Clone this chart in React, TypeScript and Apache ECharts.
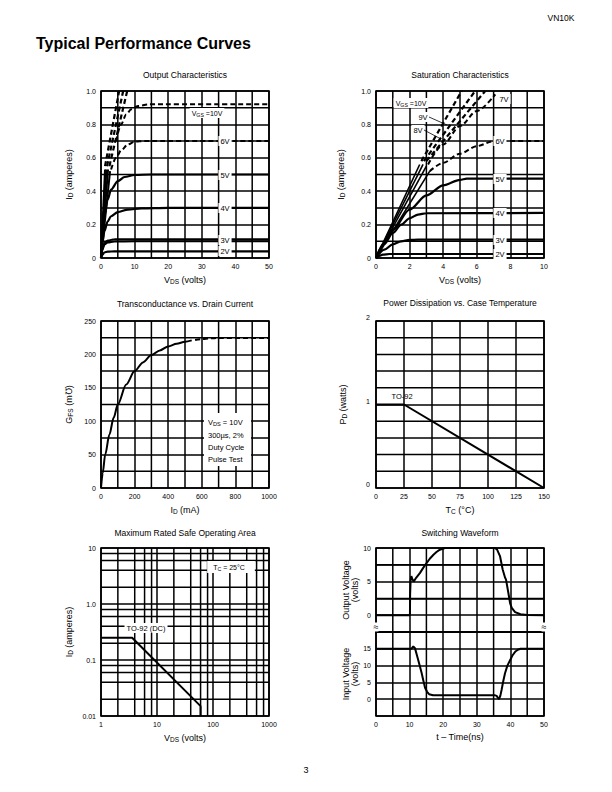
import React, { useEffect, useRef } from 'react';
import * as echarts from 'echarts';

const FONT = '"Liberation Sans", Arial, Helvetica, sans-serif';

// ---------- Output Characteristics (V_DS volts, I_D amperes) ----------
const out2V = [[0, 0], [0.4, 0.02], [1, 0.033], [2, 0.038], [4, 0.04], [50, 0.04]];
const out3Va = [[0, 0], [0.5, 0.06], [1, 0.09], [2, 0.105], [4, 0.112], [10, 0.113], [50, 0.113]];
const out3Vb = [[0, 0], [0.5, 0.05], [1, 0.08], [2, 0.093], [4, 0.099], [10, 0.1], [50, 0.1]];
const out4V = [[0, 0], [0.5, 0.1], [1, 0.16], [2, 0.22], [3, 0.25], [5, 0.275], [8, 0.29], [12, 0.297], [20, 0.3], [50, 0.3]];
const out5V = [[0, 0], [0.5, 0.15], [1, 0.25], [2, 0.35], [3, 0.41], [5, 0.46], [7, 0.485], [10, 0.497], [15, 0.5], [50, 0.5]];
const outFanA = [[0, 0], [1.2, 0.53]];
const outFanB = [[0, 0], [1.6, 0.53]];
const outFanC = [[0, 0], [2.1, 0.53]];
const outFanD = [[0, 0], [2.7, 0.52]];
const out6V = [[3.0, 0.53], [4.5, 0.6], [6, 0.645], [8, 0.68], [10, 0.697], [13, 0.7], [50, 0.7]];
const out10V = [[4.5, 0.7], [6, 0.8], [7.5, 0.86], [9, 0.89], [11, 0.91], [14, 0.92], [50, 0.92]];
const outSteepA = [[1.2, 0.55], [5.4, 1.0]];
const outSteepB = [[1.8, 0.55], [6.6, 1.0]];
const outSteepC = [[2.5, 0.55], [7.8, 1.0]];

// ---------- Saturation Characteristics ----------
const sat2V = [[0, 0], [0.2, 0.012], [0.4, 0.02], [0.8, 0.024], [10, 0.024]];
const sat3V = [[0, 0], [0.5, 0.05], [1, 0.082], [1.5, 0.1], [2, 0.108], [2.5, 0.11], [10, 0.11]];
const sat4V = [[0, 0], [0.5, 0.085], [1, 0.15], [1.5, 0.2], [2, 0.238], [2.5, 0.26], [3, 0.268], [10, 0.27]];
const sat5V = [[0, 0], [0.5, 0.09], [1, 0.17], [2, 0.29], [3, 0.375], [4, 0.435], [5, 0.468], [5.4, 0.475], [10, 0.475]];
const satFanA = [[0, 0], [2.6, 0.56]];
const satFanB = [[0, 0], [2.8, 0.56]];
const satFanC = [[0, 0], [3.0, 0.55]];
const satFanD = [[0, 0], [3.2, 0.52]];
const sat6V = [[3.2, 0.52], [4, 0.57], [5, 0.625], [6, 0.67], [7, 0.7], [10, 0.7]];
const sat7V = [[3.1, 0.56], [4, 0.68], [5, 0.79], [6, 0.88], [7.1, 0.98]];
const sat8V = [[3.0, 0.58], [6.5, 1.0]];
const sat9V = [[2.85, 0.58], [5.9, 1.0]];
const sat10V = [[2.7, 0.58], [5.1, 1.0]];

// ---------- Transconductance vs. Drain Current (I_D mA, G_FS mmho) ----------
const gfsSolid = [[0, 0], [10, 22], [25, 50], [50, 80], [75, 105], [100, 125], [150, 155], [200, 175], [250, 188], [300, 199], [350, 206], [400, 212], [450, 216], [500, 219], [540, 221]];
const gfsDashed = [[560, 221.5], [600, 223], [650, 224], [700, 224.5], [1000, 224.5]];

// ---------- Power Dissipation vs. Case Temperature ----------
const pdCurve = [[0, 1], [25, 1], [150, 0]];

// ---------- Maximum Rated Safe Operating Area ----------
const soaCurve = [[1, 0.25], [3.6, 0.25], [60, 0.015], [60, 0.01]];
const soaGridX = [2, 4, 6, 8, 20, 40, 60, 80, 200, 400, 600, 800];
const soaGridY = [0.02, 0.04, 0.06, 0.08, 0.2, 0.4, 0.6, 0.8, 2, 4, 6, 8];

// ---------- Switching Waveform (t ns, volts) ----------
const outputWave = [[0, 0], [10.1, 0], [10.15, 3], [10.3, 5.2], [10.5, 5.8], [10.8, 5.4], [11.2, 5.0], [12, 5.6], [13.1, 6.3], [14, 7.0], [15.1, 7.8], [16, 8.4], [17.1, 9.0], [18, 9.4], [19, 9.75], [20.5, 10], [35.3, 10], [36.0, 9.8], [36.9, 8.8], [37.7, 6.8], [38.4, 5.6], [38.7, 5.3], [39.4, 3.3], [39.9, 1.8], [40.4, 1.1], [41.4, 0.45], [43, 0.15], [45, 0.02], [50, 0]];
const inputWave = [[0, 15], [10.5, 15], [11.1, 15.7], [11.6, 15.2], [12.3, 12.6], [13.0, 10], [13.6, 7.7], [14.1, 5.5], [14.6, 3.4], [15.2, 2.2], [15.8, 1.5], [17, 1.2], [35.3, 1.2], [35.9, 1.0], [36.6, 0], [37.0, 1.0], [37.4, 2.9], [37.9, 5.5], [38.4, 7.7], [39.1, 10], [39.9, 11.6], [40.6, 13], [41.4, 14.1], [42.2, 14.7], [43, 15], [50, 15]];

// intermediate grid lines (between labelled ticks)
const outGridX = [5, 15, 25, 35, 45];
const idGridY = [0.1, 0.3, 0.5, 0.7, 0.9];
const satGridX = [1, 3, 5, 7, 9];
const gfsGridX = [100, 300, 500, 700, 900];
const gfsGridY = [25, 75, 125, 175, 225];
const pdGridY = [0.2, 0.4, 0.6, 0.8, 1.2, 1.4, 1.6, 1.8];
const swGridX = [5, 15, 25, 35, 45];
const swOutGridY = [2.5, 7.5];
const swInGridY: number[] = [];

const subRich = { s: { fontSize: 6.5, fontFamily: FONT, color: '#000', padding: [4, 0, 0, 0], verticalAlign: 'bottom' } };
const nameStyle = { fontSize: 9, fontFamily: FONT, color: '#000', rich: subRich };
const BLACK = { color: '#000', width: 1.5 };

function grid(left: number, top: number, width: number, height: number) {
  return { left, top, width, height, show: true, borderColor: '#000', borderWidth: 1.6, backgroundColor: 'transparent', containLabel: false };
}

function valAxis(gi: number, min: number, max: number, interval: number, name: string, nameGap: number, fmt?: any, showLabel = true, extraLabel: any = {}) {
  return {
    type: 'value', gridIndex: gi, min, max, interval, name, nameLocation: 'middle', nameGap,
    nameTextStyle: nameStyle,
    axisLine: { show: false }, axisTick: { show: false },
    axisLabel: { show: showLabel, fontSize: 7, color: '#000', margin: 5, fontFamily: FONT, formatter: fmt, ...extraLabel },
    splitLine: { show: true, lineStyle: BLACK },
  };
}

function logAxis(gi: number, min: number, max: number, name: string, nameGap: number, fmt: any) {
  return {
    type: 'log', logBase: 10, gridIndex: gi, min, max, name, nameLocation: 'middle', nameGap,
    nameTextStyle: nameStyle,
    axisLine: { show: false }, axisTick: { show: false },
    axisLabel: { fontSize: 7, color: '#000', margin: 5, fontFamily: FONT, formatter: fmt },
    splitLine: { show: true, lineStyle: BLACK },
    minorSplitLine: { show: false },
  };
}

function ln(data: number[][], idx: number, dash = false, width = 2, smooth: any = 0.3) {
  return {
    type: 'line', data, xAxisIndex: idx, yAxisIndex: idx, symbol: 'none', showSymbol: false, silent: true,
    smooth, smoothMonotone: 'x', animation: false, z: 5,
    lineStyle: { color: '#000', width, type: dash ? [5, 3] : 'solid' },
  };
}

function txt(text: string, x: number, y: number, size = 7.5, extra: any = {}) {
  return {
    type: 'text', x, y, z: 100, silent: true,
    style: {
      text, fill: '#000', fontSize: size, fontFamily: FONT,
      align: 'center', verticalAlign: 'middle', textAlign: 'center', textVerticalAlign: 'middle',
      rich: { s: { fontSize: size * 0.75, fontFamily: FONT, fill: '#000', padding: [3, 0, 0, 0], verticalAlign: 'bottom' } },
      ...extra,
    },
  };
}
const wb = { backgroundColor: '#fff', padding: [1, 2] };

const fmt1 = (v: number) => (Math.abs(v) < 1e-9 ? '0' : v.toFixed(1));
const logYFmt = (v: number) => (Math.abs(v - 10) < 1e-6 ? '10' : Math.abs(v - 1) < 1e-6 ? '1.0' : Math.abs(v - 0.1) < 1e-6 ? '0.1' : '0.01');
const logXFmt = (v: number) => String(Math.round(v));
const plain = (v: number) => String(Math.round(v));

// grid line specs: axis index, x values, y values, x range, y range
const gridSpecs: [number, number[], number[], number[], number[]][] = [
  [0, outGridX, idGridY, [0, 50], [0, 1]],
  [1, satGridX, idGridY, [0, 10], [0, 1]],
  [2, gfsGridX, gfsGridY, [0, 1000], [0, 250]],
  [3, [], pdGridY, [0, 150], [0, 2]],
  [4, soaGridX, soaGridY, [1, 1000], [0.01, 10]],
  [5, swGridX, swOutGridY, [0, 50], [-2.5, 10]],
  [6, swGridX, swInGridY, [0, 50], [-5, 20]],
];

export default function App() {
  const ref = useRef<HTMLDivElement>(null);
  useEffect(() => {
    const chart = echarts.init(ref.current!, null, { renderer: 'svg' });
    const labels: any[] = [
      txt('VN10K', 561, 18, 8.5),
      txt('Typical Performance Curves', 36, 43, 16, { align: 'left', textAlign: 'left', fontWeight: 'bold' }),
      txt('3', 306, 770, 9),
      // titles
      txt('Output Characteristics', 185, 75, 8.5),
      txt('Saturation Characteristics', 460, 75, 8.5),
      txt('Transconductance vs. Drain Current', 185, 304, 8.5),
      txt('Power Dissipation vs. Case Temperature', 460, 303, 8.5),
      txt('Maximum Rated Safe Operating Area', 185, 533, 8.5),
      txt('Switching Waveform', 460, 533, 8.5),
      // chart 1 labels
      txt('2V', 225, 251, 7.5, wb),
      txt('3V', 225, 240, 7.5, wb),
      txt('4V', 225, 208, 7.5, wb),
      txt('5V', 225, 175, 7.5, wb),
      txt('6V', 225, 141, 7.5, wb),
      txt('V{s|GS} =10V', 207, 113, 7, wb),
      // chart 2 labels
      txt('2V', 500, 254, 7.5, wb),
      txt('3V', 500, 240, 7.5, wb),
      txt('4V', 500, 213, 7.5, wb),
      txt('5V', 500, 179, 7.5, wb),
      txt('6V', 500, 141, 7.5, wb),
      txt('7V', 504, 99, 7.5, wb),
      txt('V{s|GS} =10V', 411, 103, 7, wb),
      txt('9V', 423, 117, 7.5, wb),
      txt('8V', 418, 130, 7.5, wb),
      { type: 'line', z: 100, silent: true, shape: { x1: 429, y1: 117, x2: 447, y2: 125 }, style: { stroke: '#000', lineWidth: 0.8 } },
      { type: 'line', z: 100, silent: true, shape: { x1: 424, y1: 130, x2: 441, y2: 139 }, style: { stroke: '#000', lineWidth: 0.8 } },
      // chart 3 box
      { type: 'rect', z: 99, silent: true, shape: { x: 204, y: 413, width: 47, height: 53 }, style: { fill: '#fff' } },
      txt('V{s|DS} = 10V', 208, 422, 7.5, { align: 'left', textAlign: 'left' }),
      txt('300µs, 2%', 208, 435, 7.5, { align: 'left', textAlign: 'left' }),
      txt('Duty Cycle', 208, 447, 7.5, { align: 'left', textAlign: 'left' }),
      txt('Pulse Test', 208, 459, 7.5, { align: 'left', textAlign: 'left' }),
      // chart 4 label
      txt('TO-92', 402, 396, 7.5),
      // chart 5 labels
      txt('TO-92 (DC)', 146, 628, 7.5, wb),
      txt('T{s|C} = 25°C', 231, 567, 7, { backgroundColor: '#fff', padding: [2, 10, 2, 6] }),
      // break marks
      txt('≈', 376, 627, 9, { backgroundColor: '#fff', padding: [0, 0] }),
      txt('≈', 544, 627, 9, { backgroundColor: '#fff', padding: [0, 0] }),
    ];
    const option: any = {
      animation: false,
      backgroundColor: '#fff',
      textStyle: { fontFamily: FONT },
      grid: [
        grid(101, 91, 168, 167),
        grid(376, 91, 168, 167),
        grid(101, 321, 168, 167),
        grid(376, 321, 168, 167),
        grid(101, 548, 168, 168),
        grid(376, 548, 168, 84),
        grid(376, 632, 168, 84),
      ],
      xAxis: [
        valAxis(0, 0, 50, 10, 'V{s|DS} (volts)', 16, plain),
        valAxis(1, 0, 10, 2, 'V{s|DS} (volts)', 16, plain),
        valAxis(2, 0, 1000, 200, 'I{s|D} (mA)', 16, plain),
        valAxis(3, 0, 150, 25, 'T{s|C} (°C)', 16, plain),
        logAxis(4, 1, 1000, 'V{s|DS} (volts)', 16, logXFmt),
        valAxis(5, 0, 50, 10, '', 16, plain, false),
        valAxis(6, 0, 50, 10, 't – Time(ns)', 16, plain),
      ],
      yAxis: [
        valAxis(0, 0, 1, 0.2, 'I{s|D} (amperes)', 27, fmt1),
        valAxis(1, 0, 1, 0.2, 'I{s|D} (amperes)', 30, fmt1),
        valAxis(2, 0, 250, 50, 'G{s|FS} (m℧)', 27, plain),
        valAxis(3, 0, 2, 1, 'P{s|D} (watts)', 28, plain, true, { verticalAlign: 'bottom', margin: 6 }),
        logAxis(4, 0.01, 10, 'I{s|D} (amperes)', 27, logYFmt),
        valAxis(5, -2.5, 10, 2.5, 'Output Voltage\n(volts)', 16, (v: number) => ([0, 5, 10].includes(v) ? String(v) : '')),
        valAxis(6, -5, 20, 5, 'Input Voltage\n(volts)', 16, (v: number) => (v >= 0 && v <= 15 ? String(v) : '')),
      ],
      series: [
        // output characteristics
        ln(out2V, 0, false, 2.2), ln(out3Va, 0, false, 2), ln(out3Vb, 0, false, 2), ln(out4V, 0, false, 2.2), ln(out5V, 0, false, 2.2),
        ln(outFanA, 0, false, 2, false), ln(outFanB, 0, false, 2, false), ln(outFanC, 0, false, 2, false), ln(outFanD, 0, false, 2, false),
        ln(out6V, 0, true, 2), ln(out10V, 0, true, 2),
        ln(outSteepA, 0, true, 2.2, false), ln(outSteepB, 0, true, 2.2, false), ln(outSteepC, 0, true, 2.2, false),
        // saturation
        ln(sat2V, 1, false, 2.2), ln(sat3V, 1, false, 2.2), ln(sat4V, 1, false, 2.2), ln(sat5V, 1, false, 2.2),
        ln(satFanA, 1, false, 1.6, false), ln(satFanB, 1, false, 1.6, false), ln(satFanC, 1, false, 1.6, false), ln(satFanD, 1, false, 1.6, false),
        ln(sat6V, 1, true, 2), ln(sat7V, 1, true, 2), ln(sat8V, 1, true, 2.2, false), ln(sat9V, 1, true, 2.2, false), ln(sat10V, 1, true, 2.2, false),
        // transconductance
        ln(gfsSolid, 2, false, 2), ln(gfsDashed, 2, true, 2),
        // power dissipation
        ln(pdCurve, 3, false, 2, false),
        // SOA
        ln(soaCurve, 4, false, 2, false),
        // switching
        ln(outputWave, 5, false, 2, false),
        ln(inputWave, 6, false, 2, false),
      ],
      graphic: labels,
    };
    chart.setOption(option);

    // grid lines placed through the axes' own scales
    const gridLines: any[] = [];
    gridSpecs.forEach(([idx, xs, ys, xr, yr]) => {
      const px0 = chart.convertToPixel({ xAxisIndex: idx } as any, xr[0]) as number;
      const px1 = chart.convertToPixel({ xAxisIndex: idx } as any, xr[1]) as number;
      const py0 = chart.convertToPixel({ yAxisIndex: idx } as any, yr[0]) as number;
      const py1 = chart.convertToPixel({ yAxisIndex: idx } as any, yr[1]) as number;
      xs.forEach((v) => {
        const p = chart.convertToPixel({ xAxisIndex: idx } as any, v) as number;
        gridLines.push({ type: 'line', z: 3, silent: true, shape: { x1: p, y1: py1, x2: p, y2: py0 }, style: { stroke: '#000', lineWidth: 1.5 } });
      });
      ys.forEach((v) => {
        const p = chart.convertToPixel({ yAxisIndex: idx } as any, v) as number;
        gridLines.push({ type: 'line', z: 3, silent: true, shape: { x1: px0, y1: p, x2: px1, y2: p }, style: { stroke: '#000', lineWidth: 1.5 } });
      });
    });
    chart.setOption({ graphic: [...labels, ...gridLines] });
    return () => chart.dispose();
  }, []);
  return <div ref={ref} style={{ position: 'absolute', left: 0, top: 0, width: 612, height: 792, background: '#fff' }} />;
}
